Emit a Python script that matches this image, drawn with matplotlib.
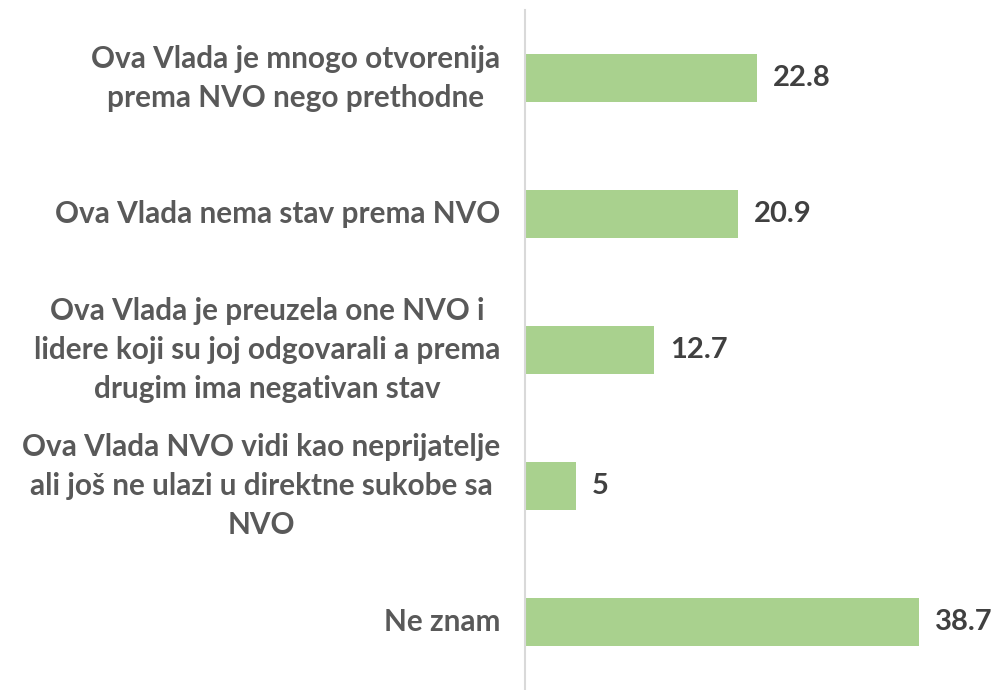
import matplotlib
matplotlib.use("Agg")
import matplotlib.pyplot as plt

categories = [
    "Ova Vlada je mnogo otvorenija\nprema NVO nego prethodne",
    "Ova Vlada nema stav prema NVO",
    "Ova Vlada je preuzela one NVO i\nlidere koji su joj odgovarali a prema\ndrugim ima negativan stav",
    "Ova Vlada NVO vidi kao neprijatelje\nali još ne ulazi u direktne sukobe sa\nNVO",
    "Ne znam",
]
values = [22.8, 20.9, 12.7, 5, 38.7]
value_labels = ["22.8", "20.9", "12.7", "5", "38.7"]

fig = plt.figure(figsize=(10, 6.9), dpi=100)
ax = fig.add_axes([0.525, 0.0, 0.475, 0.985])

y = list(range(len(categories)))
ax.barh(y, values, height=0.353, color="#A9D18E", zorder=2)
ax.set_ylim(len(categories) - 0.5, -0.5)
ax.set_xlim(0, 46.7)

for yi, v, lab in zip(y, values, value_labels):
    ax.text(v + 1.6, yi, lab, va="center", ha="left", fontsize=21,
            fontweight="bold", color="#404040", family="Lato")

ax.set_yticks(y)
ax.set_yticklabels(categories, fontsize=21.4, fontweight="bold", color="#595959",
                   family="Lato", linespacing=1.47, multialignment="center",
                   va="center")
ax.tick_params(axis="y", length=0, pad=18)
ax.set_xticks([])
for s in ["top", "right", "bottom"]:
    ax.spines[s].set_visible(False)
ax.spines["left"].set_color("#D9D9D9")
ax.spines["left"].set_linewidth(1.5)

fig.savefig("out.png", dpi=100)
